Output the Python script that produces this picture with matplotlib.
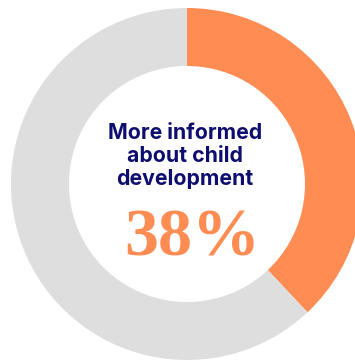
import matplotlib.pyplot as plt

# share of respondents
labels = ['More informed', 'Other']
values = [38, 62]
colors = ['#FF8C52', '#DEDEDE']
title = 'More informed\nabout child\ndevelopment'
pct_text = '38%'

fig = plt.figure(figsize=(3.55, 3.61), dpi=100)
ax = fig.add_axes([0, 0, 1, 1])

cx, cy, r = 187, 177, 176
ax.pie(values, colors=colors, startangle=90, counterclock=False,
       center=(cx, cy), radius=r, frame=True,
       wedgeprops=dict(width=58, linewidth=0))
ax.set_xlim(0, 355)
ax.set_ylim(0, 361)
ax.set_aspect('equal')
ax.axis('off')

ax.text(cx - 2, 205, title, ha='center', va='center', fontsize=15.3,
        fontweight='bold', color='#0E0E6E', family='Inter',
        linespacing=1.2)
ax.text(cx + 5, 122, pct_text, ha='center', va='center', fontsize=49,
        fontweight='bold', color='#FF8C52', family='Liberation Serif')

fig.savefig('out.png', dpi=100)
